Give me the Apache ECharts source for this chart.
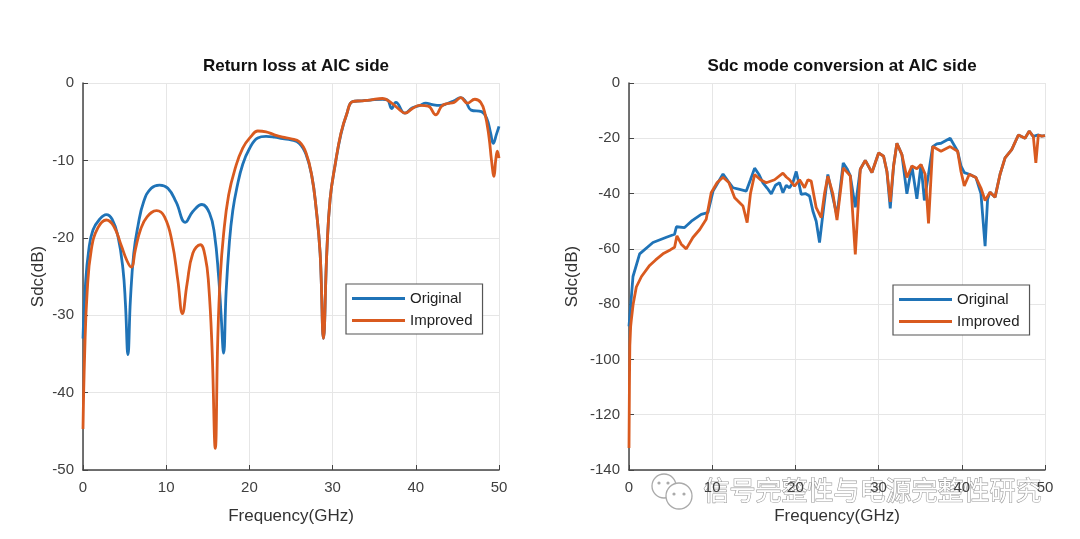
<!DOCTYPE html>
<html><head><meta charset="utf-8">
<script src="https://cdn.jsdelivr.net/npm/echarts@6/dist/echarts.min.js"></script>
<style>html,body{margin:0;padding:0;background:#fff;}#c{width:1080px;height:539px;}</style>
</head><body><div id="c"></div>
<script>
// ---- Left: Return loss at AIC side ----
const rlOrigFreq = [0,0.3,0.7,1.2,2.0,2.8,3.5,4.2,4.8,5.1,5.4,5.7,6.1,6.6,7.3,8.2,9.2,10.2,11.2,12.3,13.2,14.3,15.2,15.8,16.3,16.6,16.9,17.2,17.6,18.0,18.5,19.2,20.0,21.0,22.0,23.0,24.0,25.0,26.0,26.8,27.5,28.0,28.5,28.9,29.3,29.7,30.3,31.0,31.7,32.4,33.5,34.5,36.0,36.6,37.1,37.6,38.7,39.6,40.5,41.2,42.0,42.9,43.8,44.6,45.4,46.0,46.65,47.9,48.5,49.0,49.3,49.7,50.0];
const rlOrigVal = [-33,-26,-21.5,-19,-17.6,-17,-17.6,-19.8,-24,-28.5,-35.1,-28,-22,-18.5,-15.3,-13.6,-13.2,-13.6,-15.4,-18,-16.6,-15.7,-16.8,-19.5,-25,-30,-34.9,-27,-20.5,-16.5,-13.5,-10.5,-8.5,-7.1,-6.9,-7.0,-7.2,-7.35,-7.8,-9.2,-12,-16,-22,-33,-22,-15,-10.6,-6.6,-4.0,-2.4,-2.3,-2.2,-2.1,-2.2,-3.3,-2.5,-3.9,-3.2,-2.9,-2.6,-2.8,-2.9,-2.65,-2.3,-1.9,-2.4,-3.5,-3.7,-4.5,-6.5,-7.8,-6.6,-5.6];
const rlImpFreq = [0,0.2,0.5,1.0,1.8,2.8,3.7,4.6,5.3,5.8,6.3,6.9,7.7,8.85,9.8,10.7,11.4,11.95,12.5,13.2,14.1,14.7,15.1,15.5,15.9,16.2,16.5,16.9,17.5,18.3,19.2,20.2,21.0,22.0,23.0,24.0,25.0,26.0,26.8,27.5,28.0,28.5,28.9,29.3,29.7,30.3,31.0,31.7,32.4,33.5,34.5,36.0,37.1,38.0,38.7,39.6,40.5,41.5,42.4,43.1,43.8,44.6,45.4,46.2,47.1,47.8,48.3,48.8,49.1,49.4,49.6,49.8,50.0];
const rlImpVal = [-44.7,-35,-27,-21.5,-18.7,-17.7,-18.5,-21,-23,-23.8,-21.5,-19,-17.3,-16.5,-17.3,-20.5,-25.5,-29.8,-26,-22,-20.9,-22.5,-26,-34,-47.2,-33,-25,-19.5,-14.5,-11,-8.4,-6.9,-6.2,-6.3,-6.7,-7.0,-7.2,-7.6,-9,-12,-16,-22,-33,-22,-15,-10.6,-6.5,-4.0,-2.4,-2.3,-2.2,-2.0,-2.6,-3.4,-3.9,-3.3,-2.9,-3.0,-4.1,-3.0,-2.65,-2.5,-1.9,-2.6,-2.1,-2.5,-3.9,-7,-10,-12.05,-10,-8.8,-9.7];

// ---- Right: Sdc mode conversion at AIC side ----
const sdcOrigFreq = [0,0.16,0.48,1.28,2.88,4.5,5.48,5.7,5.88,6.68,7.5,8.68,9.48,10.1,10.7,11.3,11.9,12.5,13.3,14.1,14.6,15.1,15.6,16.1,16.6,17.1,17.6,18.1,18.5,18.9,19.3,19.7,20.1,20.4,20.7,21.2,21.7,22.1,22.5,22.9,23.4,23.9,24.4,25.0,25.75,26.2,26.6,27.2,27.8,28.4,29.2,30.0,30.6,31.0,31.4,31.8,32.2,32.8,33.4,34.0,34.6,35.1,35.5,36.0,36.5,37.0,37.5,38.6,39.5,39.9,40.3,40.9,41.7,42.3,42.8,43.1,43.4,44.0,44.6,45.2,46.0,46.8,47.6,48.1,48.6,48.9,49.2,49.6,50.0];
const sdcOrigVal = [-88,-82,-70,-61.8,-57.7,-55.8,-54.7,-52,-52.3,-52.3,-50,-47.5,-46.9,-39.1,-36,-32.9,-35.5,-37.9,-38.5,-39.1,-35,-30.8,-33,-36.1,-38,-40.1,-37,-36.1,-39.7,-37,-37.9,-36,-32,-36,-40.3,-40,-40.9,-46.3,-50,-57.7,-45,-33.1,-40,-48,-28.9,-31,-33.6,-45,-31.2,-28,-32.4,-25.3,-26.5,-32,-45.4,-30,-21.8,-25.9,-40.1,-30,-41.9,-29.5,-42.5,-33,-23,-22,-21.8,-20,-24.7,-30,-32.4,-33,-34.2,-40,-59,-42,-39.5,-41.3,-33,-27.1,-24.1,-18.8,-20,-17.4,-19.4,-19,-18.8,-19.2,-19];
const sdcImpFreq = [0,0.05,0.1,0.2,0.28,0.5,0.88,1.5,2.48,3.2,4.08,5.0,5.48,5.76,6.28,6.88,7.68,8.5,9.28,9.88,10.6,11.3,12.0,12.7,13.7,14.2,14.6,15.1,15.8,16.5,17.5,18.5,18.9,19.3,19.9,20.5,21.1,21.5,21.9,22.5,23.1,23.5,23.9,24.5,25.0,25.75,26.6,27.2,27.8,28.4,29.2,30.0,30.6,31.0,31.4,31.8,32.2,32.8,33.4,34.0,34.6,35.1,35.6,36.0,36.5,37.5,38.6,39.5,39.9,40.3,40.9,41.7,42.3,42.8,43.4,44.0,44.6,45.2,46.0,46.8,47.6,48.1,48.6,48.9,49.2,49.6,50.0];
const sdcImpVal = [-132,-110,-95,-88,-85.7,-80,-73.8,-70,-66,-64,-61.8,-60.3,-59.4,-55.3,-58.3,-60,-55.9,-53,-49.3,-39.7,-36,-34.1,-36,-41.5,-44.5,-50.5,-40,-33.1,-35,-36.1,-35,-32.6,-34,-35,-37.3,-35,-37.9,-35,-35.5,-45.1,-48.7,-40,-33.7,-40,-49.6,-30.7,-33.6,-62,-31.2,-28,-32.4,-25.3,-26.5,-32,-43,-30,-21.8,-25.9,-34.2,-30,-31,-29.5,-33,-50.8,-23,-24.7,-23,-24.7,-32,-37.2,-33,-34.2,-38,-42.5,-39.5,-41.3,-33,-27.1,-24.1,-18.8,-20,-17.4,-19.4,-28.9,-18.8,-19.2,-19];

const titles = ['Return loss at AIC side', 'Sdc mode conversion at AIC side'];
const seriesNames = ['Original', 'Improved'];
const xTicksMax = 50, xInterval = 10;

const pairs = (f, v) => f.map((x, i) => [x, v[i]]);
const BLUE = '#1f73b7', ORANGE = '#d95a1f';
const FONT = 'Liberation Sans, Arial, sans-serif';

function xAx(i) {
  return {
    type: 'value', gridIndex: i, min: 0, max: xTicksMax, interval: xInterval,
    name: 'Frequency(GHz)', nameLocation: 'middle', nameGap: 38,
    nameTextStyle: { fontSize: 17, color: '#333', fontFamily: FONT },
    axisLine: { show: true, onZero: false, lineStyle: { color: '#444', width: 1.5 } },
    axisTick: { show: true, inside: true, length: 5, lineStyle: { color: '#444' } },
    axisLabel: { fontSize: 15, color: '#404040', fontFamily: FONT, margin: 10 },
    splitLine: { show: true, lineStyle: { color: '#e6e6e6', width: 1 } }
  };
}
function yAx(i, min, interval, gap) {
  return {
    type: 'value', gridIndex: i, min: min, max: 0, interval: interval,
    name: 'Sdc(dB)', nameLocation: 'middle', nameGap: gap, nameRotate: 90,
    nameTextStyle: { fontSize: 17, color: '#333', fontFamily: FONT },
    axisLine: { show: true, onZero: false, lineStyle: { color: '#444', width: 1.5 } },
    axisTick: { show: true, inside: true, length: 5, lineStyle: { color: '#444' } },
    axisLabel: { fontSize: 15, color: '#404040', fontFamily: FONT, margin: 9 },
    splitLine: { show: true, lineStyle: { color: '#e6e6e6', width: 1 } }
  };
}
function line(name, data, idx, color, smooth) {
  return {
    name: name, type: 'line', xAxisIndex: idx, yAxisIndex: idx, data: data,
    symbol: 'none', smooth: smooth,
    lineStyle: { color: color, width: 2.8 }, itemStyle: { color: color },
    animation: false
  };
}
function legend(left, top) {
  return {
    orient: 'vertical', left: left, top: top, data: seriesNames,
    backgroundColor: '#fff', borderColor: '#555', borderWidth: 1.2,
    padding: [7, 10, 6, 6], itemGap: 7, itemWidth: 53, itemHeight: 3, icon: 'rect',
    textStyle: { fontSize: 15, color: '#222', fontFamily: FONT }
  };
}

const chart = echarts.init(document.getElementById('c'), null, { renderer: 'canvas' });
chart.setOption({
  backgroundColor: '#fff',
  animation: false,
  title: [
    { text: titles[0], left: 291, top: 53, textAlign: 'center',
      textStyle: { fontSize: 17, fontWeight: 'bold', color: '#111', fontFamily: FONT } },
    { text: titles[1], left: 837, top: 53, textAlign: 'center',
      textStyle: { fontSize: 17, fontWeight: 'bold', color: '#111', fontFamily: FONT } }
  ],
  grid: [
    { left: 83, top: 83, width: 416, height: 387 },
    { left: 629, top: 83, width: 416, height: 387 }
  ],
  xAxis: [xAx(0), xAx(1)],
  yAxis: [yAx(0, -50, 10, 36), yAx(1, -140, 20, 48)],
  legend: [legend(346, 284), legend(893, 285)],
  series: [
    line(seriesNames[0], pairs(rlOrigFreq, rlOrigVal), 0, BLUE, 0.45),
    line(seriesNames[1], pairs(rlImpFreq, rlImpVal), 0, ORANGE, 0.45),
    line(seriesNames[0], pairs(sdcOrigFreq, sdcOrigVal), 1, BLUE, false),
    line(seriesNames[1], pairs(sdcImpFreq, sdcImpVal), 1, ORANGE, false)
  ],
  graphic: [
    { type: 'group', z: 100, children: [
      { type: 'circle', shape: { cx: 664, cy: 486, r: 12 }, style: { fill: '#fff', stroke: '#aaa', lineWidth: 1.3 } },
      { type: 'circle', shape: { cx: 679, cy: 496, r: 13 }, style: { fill: '#fff', stroke: '#aaa', lineWidth: 1.3 } },
      { type: 'circle', shape: { cx: 659, cy: 483, r: 1.6 }, style: { fill: '#aaa' } },
      { type: 'circle', shape: { cx: 668, cy: 483, r: 1.6 }, style: { fill: '#aaa' } },
      { type: 'circle', shape: { cx: 674, cy: 494, r: 1.6 }, style: { fill: '#aaa' } },
      { type: 'circle', shape: { cx: 684, cy: 494, r: 1.6 }, style: { fill: '#aaa' } },
      { type: 'text', left: 703, top: 477, style: { text: '信号完整性与电源完整性研究',
        font: '26px "Noto Sans CJK SC"', fill: '#fff', stroke: '#9a9a9a', lineWidth: 1.2 } }
    ] }
  ]
});
</script></body></html>
